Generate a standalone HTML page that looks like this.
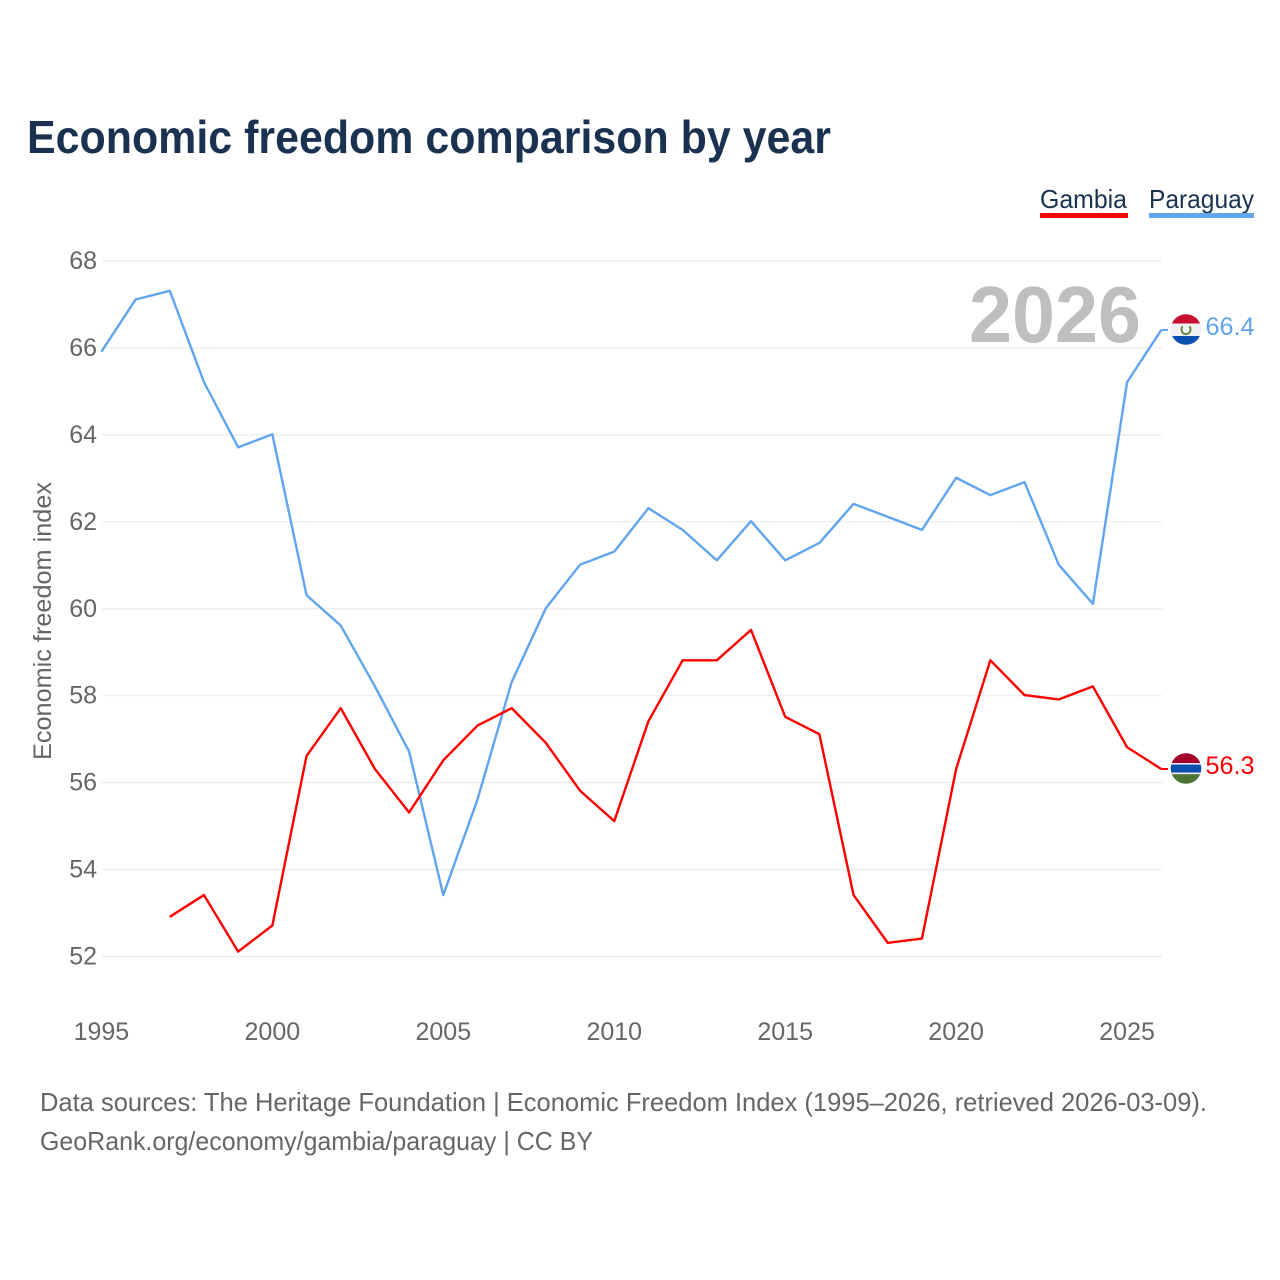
<!DOCTYPE html>
<html lang="en">
<head>
<meta charset="utf-8">
<title>Economic freedom comparison by year</title>
<style>
html,body{margin:0;padding:0;background:#fff;}
svg{display:block;font-family:"Liberation Sans",sans-serif;}
</style>
</head>
<body>
<svg id="chart" width="1280" height="1280" viewBox="0 0 1280 1280" xmlns="http://www.w3.org/2000/svg">
  <defs>
    <clipPath id="clip-py"><circle cx="1186" cy="329.5" r="15.3"/></clipPath>
    <clipPath id="clip-gm"><circle cx="1186" cy="768.5" r="15.3"/></clipPath>
  </defs>
  <text x="27" y="153" font-size="46" font-weight="700" fill="#1a3250" textLength="804" lengthAdjust="spacingAndGlyphs">Economic freedom comparison by year</text>

  <g>
    <text x="1040" y="208" font-size="26" fill="#1a3250" textLength="87" lengthAdjust="spacingAndGlyphs">Gambia</text>
    <rect x="1040" y="213" width="88" height="5" fill="#ff0000"/>
  </g>
  <g>
    <text x="1149" y="208" font-size="26" fill="#1a3250" textLength="105" lengthAdjust="spacingAndGlyphs">Paraguay</text>
    <rect x="1149" y="213" width="105" height="5" fill="#60a5ee"/>
  </g>

  <g id="grid"></g>
  <g id="ylabels"></g>
  <g id="xlabels"></g>

  <text transform="translate(51,621) rotate(-90)" text-anchor="middle" font-size="25" fill="#666666" textLength="278" lengthAdjust="spacingAndGlyphs">Economic freedom index</text>

  <text x="969" y="342" font-size="80" font-weight="700" fill="#bfbfbf" textLength="172" lengthAdjust="spacingAndGlyphs">2026</text>

  <g id="series"></g>

  <circle cx="1186" cy="329.5" r="17" fill="#ffffff"/>
  <g clip-path="url(#clip-py)">
    <rect x="1170" y="314" width="32" height="9.5" fill="#c8102e"/>
    <rect x="1170" y="323.5" width="32" height="12.5" fill="#f2f2f2"/>
    <rect x="1170" y="336" width="32" height="10" fill="#0b4fb0"/>
    <path d="M1182.6 326.4a4.6 4.6 0 1 0 6.8 0" fill="none" stroke="#55803a" stroke-width="1.8"/>
  </g>
  <circle cx="1186" cy="768.5" r="0" fill="#ffffff"/>
  <g clip-path="url(#clip-gm)">
    <rect x="1170" y="753" width="32" height="10" fill="#a5002c"/>
    <rect x="1170" y="763" width="32" height="1.6" fill="#e8e8e8"/>
    <rect x="1170" y="764.6" width="32" height="8" fill="#0b4fb0"/>
    <rect x="1170" y="772.6" width="32" height="1.6" fill="#e8e8e8"/>
    <rect x="1170" y="774.2" width="32" height="10" fill="#4b7434"/>
  </g>

  <text id="end-label-paraguay" x="1205.5" y="335" font-size="25" fill="#60a5ee" textLength="49" lengthAdjust="spacingAndGlyphs"></text>
  <text id="end-label-gambia" x="1205.5" y="774" font-size="25" fill="#ff0000" textLength="49" lengthAdjust="spacingAndGlyphs"></text>

  <text x="40" y="1111" font-size="26" fill="#666666" textLength="1167" lengthAdjust="spacingAndGlyphs">Data sources: The Heritage Foundation | Economic Freedom Index (1995–2026, retrieved 2026-03-09).</text>
  <text x="40" y="1150" font-size="26" fill="#666666" textLength="553" lengthAdjust="spacingAndGlyphs">GeoRank.org/economy/gambia/paraguay | CC BY</text>
</svg>
<script>
const years = [1995,1996,1997,1998,1999,2000,2001,2002,2003,2004,2005,2006,2007,2008,2009,2010,2011,2012,2013,2014,2015,2016,2017,2018,2019,2020,2021,2022,2023,2024,2025,2026];
const paraguayValues = [65.9,67.1,67.3,65.2,63.7,64.0,60.3,59.6,58.2,56.7,53.4,55.6,58.3,60.0,61.0,61.3,62.3,61.8,61.1,62.0,61.1,61.5,62.4,62.1,61.8,63.0,62.6,62.9,61.0,60.1,65.2,66.4];
const gambiaValues = [null,null,52.9,53.4,52.1,52.7,56.6,57.7,56.3,55.3,56.5,57.3,57.7,56.9,55.8,55.1,57.4,58.8,58.8,59.5,57.5,57.1,53.4,52.3,52.4,56.3,58.8,58.0,57.9,58.2,56.8,56.3];
const yTicks = [52,54,56,58,60,62,64,66,68];
const xTicks = [1995,2000,2005,2010,2015,2020,2025];

const NS = 'http://www.w3.org/2000/svg';
function xScale(year){ return 101.4 + (year - 1995) * 34.19; }
function yScale(v){ return 260.4 + (68 - v) * 43.47; }
function make(tag, attrs, parent){
  const el = document.createElementNS(NS, tag);
  Object.keys(attrs).forEach(function(k){ el.setAttribute(k, attrs[k]); });
  parent.appendChild(el);
  return el;
}

const grid = document.getElementById('grid');
const ylabels = document.getElementById('ylabels');
const xlabels = document.getElementById('xlabels');
const seriesGroup = document.getElementById('series');

yTicks.forEach(function(t){
  const line = make('line', {x1:102, x2:1162, y1:yScale(t)+0.6, y2:yScale(t)+0.6, stroke:'#ebebeb', 'stroke-width':1.2}, grid);
  
  
  const label = make('text', {x:97, y:yScale(t)+8.6, 'text-anchor':'end', 'font-size':25, fill:'#666666'}, ylabels);
  
  
  label.textContent = t;
});

xTicks.forEach(function(t){
  const label = make('text', {x:xScale(t), y:1040, 'text-anchor':'middle', 'font-size':25, fill:'#666666'}, xlabels);
  
  
  label.textContent = t;
});

function linePath(values){
  let d = '';
  let started = false;
  values.forEach(function(v, i){
    if (v === null) { return; }
    d += (started ? 'L' : 'M') + xScale(years[i]).toFixed(2) + ' ' + yScale(v).toFixed(2);
    started = true;
  });
  return d;
}

const paraguayLine = make('path', {d:linePath(paraguayValues), fill:'none', stroke:'#60a5ee', 'stroke-width':2.4, 'stroke-linejoin':'round'}, seriesGroup);



const gambiaLine = make('path', {d:linePath(gambiaValues), fill:'none', stroke:'#ff0000', 'stroke-width':2.4, 'stroke-linejoin':'round'}, seriesGroup);



const lastIdx = years.length - 1;
const pyConn = make('line', {x1:xScale(years[lastIdx]), x2:1168, y1:yScale(paraguayValues[lastIdx]), y2:yScale(paraguayValues[lastIdx]), stroke:'#60a5ee', 'stroke-width':2}, seriesGroup);


const gmConn = make('line', {x1:xScale(years[lastIdx]), x2:1168, y1:yScale(gambiaValues[lastIdx]), y2:yScale(gambiaValues[lastIdx]), stroke:'#ff0000', 'stroke-width':2}, seriesGroup);



document.getElementById('end-label-paraguay').textContent = paraguayValues[lastIdx].toFixed(1);
document.getElementById('end-label-gambia').textContent = gambiaValues[lastIdx].toFixed(1);
</script>
</body>
</html>
